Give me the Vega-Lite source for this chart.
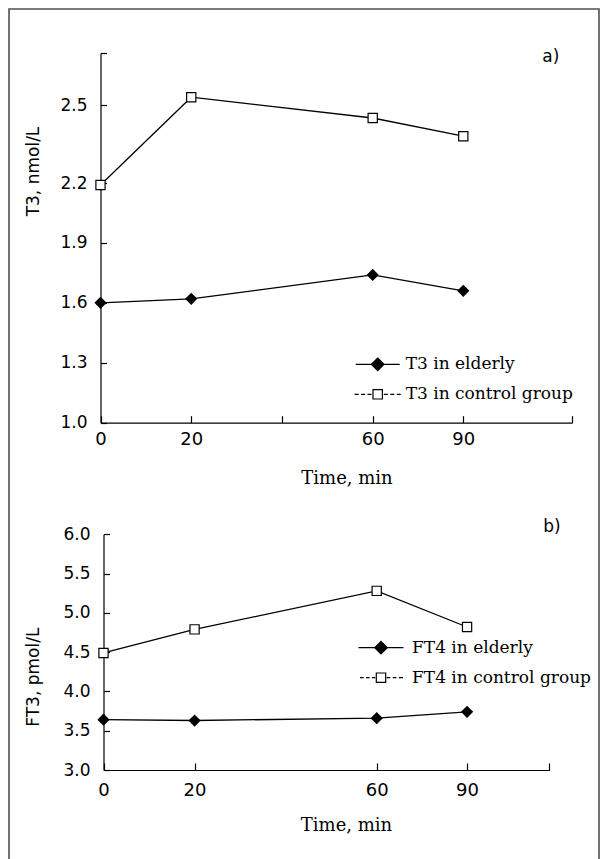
{
  "$schema": "https://vega.github.io/schema/vega-lite/v6.json",
  "width": 590,
  "height": 861,
  "autosize": {"type": "none"},
  "padding": {"left": 9, "top": 9, "right": 3, "bottom": -11},
  "background": "white",
  "config": {
    "view": {"stroke": "#505050", "strokeWidth": 1.6},
    "axis": {
      "labelFont": "DejaVu Sans", "labelFontSize": 17, "labelColor": "black",
      "domainColor": "black", "domainWidth": 1.2, "tickColor": "black", "tickWidth": 1.2,
      "grid": false, "titleFontWeight": "normal", "titleColor": "black",
      "labelFlush": false, "labelOverlap": false, "labelBound": false
    },
    "legend": {
      "labelFont": "DejaVu Serif", "labelFontSize": 17, "labelColor": "black",
      "padding": 0, "rowPadding": 0, "labelLimit": 400, "symbolOpacity": 1,
      "symbolStrokeColor": "black", "symbolStrokeWidth": 1.2
    }
  },
  "datasets": {
    "a": [
      {"time": 0, "value": 1.60, "series": "elderly", "label": "T3 in elderly"},
      {"time": 20, "value": 1.62, "series": "elderly", "label": "T3 in elderly"},
      {"time": 60, "value": 1.74, "series": "elderly", "label": "T3 in elderly"},
      {"time": 90, "value": 1.66, "series": "elderly", "label": "T3 in elderly"},
      {"time": 0, "value": 2.19, "series": "control", "label": "T3 in control group"},
      {"time": 20, "value": 2.53, "series": "control", "label": "T3 in control group"},
      {"time": 60, "value": 2.45, "series": "control", "label": "T3 in control group"},
      {"time": 90, "value": 2.38, "series": "control", "label": "T3 in control group"}
    ],
    "b": [
      {"time": 0, "value": 3.64, "series": "elderly", "label": "FT4 in elderly"},
      {"time": 20, "value": 3.63, "series": "elderly", "label": "FT4 in elderly"},
      {"time": 60, "value": 3.66, "series": "elderly", "label": "FT4 in elderly"},
      {"time": 90, "value": 3.74, "series": "elderly", "label": "FT4 in elderly"},
      {"time": 0, "value": 4.49, "series": "control", "label": "FT4 in control group"},
      {"time": 20, "value": 4.79, "series": "control", "label": "FT4 in control group"},
      {"time": 60, "value": 5.28, "series": "control", "label": "FT4 in control group"},
      {"time": 90, "value": 4.82, "series": "control", "label": "FT4 in control group"}
    ]
  },
  "layer": [
    {
      "data": {"name": "a"},
      "layer": [
        {
          "mark": {"type": "line", "color": "black", "strokeWidth": 1.3},
          "encoding": {
            "x": {
              "field": "time", "type": "quantitative",
              "scale": {"domain": [0, 60, 126], "range": [91.5, 363.7, 563], "nice": false, "zero": false},
              "axis": {
                "orient": "bottom", "offset": -447.3,
                "values": [0, 20, 40, 60, 90, 126],
                "labelExpr": "datum.value == 40 || datum.value == 126 ? '' : datum.label",
                "tickSize": -7, "labelPadding": 15, "labelFontSize": 18,
                "title": "Time, min", "titleFont": "DejaVu Serif", "titleFontSize": 18,
                "titleX": 337.5, "titleY": 56, "titleBaseline": "middle", "titleAlign": "center"
              }
            },
            "y": {
              "field": "value", "type": "quantitative",
              "scale": {"domain": [1.0, 2.2, 2.7], "range": [413.7, 174, 44], "nice": false, "zero": false},
              "axis": {
                "orient": "left", "offset": -91.5,
                "values": [1.0, 1.3, 1.6, 1.9, 2.2, 2.5, 2.7],
                "format": ".1f",
                "labelExpr": "datum.value == 2.7 ? '' : datum.label",
                "tickSize": -6, "labelPadding": 19.5,
                "title": "T3, nmol/L", "titleFont": "DejaVu Sans", "titleFontSize": 17,
                "titleX": -67.2, "titleY": 162, "titleBaseline": "middle", "titleAlign": "center", "titleAngle": -90
              }
            },
            "detail": {"field": "series"}
          }
        },
        {
          "transform": [{"filter": "datum.series === 'elderly'"}],
          "mark": {"type": "point", "shape": "diamond", "filled": true, "color": "black", "size": 150, "opacity": 1},
          "encoding": {
            "x": {"field": "time", "type": "quantitative"},
            "y": {"field": "value", "type": "quantitative"}
          }
        },
        {
          "transform": [{"filter": "datum.series === 'control'"}],
          "mark": {"type": "point", "shape": "square", "filled": true, "fill": "white", "stroke": "black", "strokeWidth": 1.2, "size": 85, "opacity": 1},
          "encoding": {
            "x": {"field": "time", "type": "quantitative"},
            "y": {"field": "value", "type": "quantitative"}
          }
        },
        {
          "mark": {"type": "point", "filled": true, "opacity": 0, "stroke": "black"},
          "encoding": {
            "x": {"field": "time", "type": "quantitative"},
            "y": {"field": "value", "type": "quantitative"},
            "shape": {
              "field": "label", "type": "nominal",
              "scale": {
                "domain": ["T3 in elderly", "T3 in control group"],
                "range": [
                  "M-1.1,0H1.1M0,-0.315L0.315,0L0,0.315L-0.315,0Z",
                  "M-1.15,0H-0.95M-0.83,0H-0.63M-0.51,0H-0.31M-0.235,-0.235H0.235V0.235H-0.235ZM0.31,0H0.51M0.63,0H0.83M0.95,0H1.15"
                ]
              },
              "legend": {
                "orient": "none", "legendX": 347.7, "legendY": 334.3, "title": null,
                "symbolSize": 1600, "labelOffset": 7,
                "encode": {"symbols": {"update": {"opacity": {"value": 1}, "stroke": {"value": "black"}}}}
              }
            },
            "fill": {
              "field": "label", "type": "nominal",
              "scale": {"domain": ["T3 in elderly", "T3 in control group"], "range": ["black", "white"]},
              "legend": {
                "orient": "none", "legendX": 347.7, "legendY": 334.3, "title": null,
                "symbolSize": 1600, "labelOffset": 7,
                "encode": {"symbols": {"update": {"opacity": {"value": 1}, "stroke": {"value": "black"}}}}
              }
            }
          }
        },
        {
          "data": {"values": [{"tag": "a)"}]},
          "mark": {"type": "text", "font": "DejaVu Sans", "fontSize": 17, "color": "black", "align": "center", "baseline": "middle"},
          "encoding": {
            "x": {"datum": 119},
            "y": {"datum": 2.683},
            "text": {"field": "tag"}
          }
        }
      ]
    },
    {
      "data": {"name": "b"},
      "layer": [
        {
          "mark": {"type": "line", "color": "black", "strokeWidth": 1.3},
          "encoding": {
            "x": {
              "field": "time", "type": "quantitative",
              "scale": {"domain": [0, 60, 117.3], "range": [94.5, 367.7, 540.3], "nice": false, "zero": false},
              "axis": {
                "orient": "bottom", "offset": -100,
                "values": [0, 20, 60, 90, 117.3],
                "labelExpr": "datum.value == 117.3 ? '' : datum.label",
                "tickSize": -7, "labelPadding": 18, "labelFontSize": 18,
                "title": "Time, min", "titleFont": "DejaVu Serif", "titleFontSize": 18,
                "titleX": 337, "titleY": 55, "titleBaseline": "middle", "titleAlign": "center"
              }
            },
            "y": {
              "field": "value", "type": "quantitative",
              "scale": {"domain": [3.0, 6.0], "range": [761, 525.3], "nice": false, "zero": false},
              "axis": {
                "orient": "left", "offset": -94.5,
                "values": [3.0, 3.5, 4.0, 4.5, 5.0, 5.5, 6.0],
                "format": ".1f",
                "tickSize": -6, "labelPadding": 19.5,
                "title": "FT3, pmol/L", "titleFont": "DejaVu Sans", "titleFontSize": 17,
                "titleX": -70.2, "titleY": 667.7, "titleBaseline": "middle", "titleAlign": "center", "titleAngle": -90
              }
            },
            "detail": {"field": "series"}
          }
        },
        {
          "transform": [{"filter": "datum.series === 'elderly'"}],
          "mark": {"type": "point", "shape": "diamond", "filled": true, "color": "black", "size": 150, "opacity": 1},
          "encoding": {
            "x": {"field": "time", "type": "quantitative"},
            "y": {"field": "value", "type": "quantitative"}
          }
        },
        {
          "transform": [{"filter": "datum.series === 'control'"}],
          "mark": {"type": "point", "shape": "square", "filled": true, "fill": "white", "stroke": "black", "strokeWidth": 1.2, "size": 85, "opacity": 1},
          "encoding": {
            "x": {"field": "time", "type": "quantitative"},
            "y": {"field": "value", "type": "quantitative"}
          }
        },
        {
          "mark": {"type": "point", "filled": true, "opacity": 0, "stroke": "black"},
          "encoding": {
            "x": {"field": "time", "type": "quantitative"},
            "y": {"field": "value", "type": "quantitative"},
            "shape": {
              "field": "label", "type": "nominal",
              "scale": {
                "domain": ["FT4 in elderly", "FT4 in control group"],
                "range": [
                  "M-1.125,0H1.125M0,-0.315L0.315,0L0,0.315L-0.315,0Z",
                  "M-1.05,0H-0.87M-0.75,0H-0.57M-0.45,0H-0.29M-0.235,-0.235H0.235V0.235H-0.235ZM0.29,0H0.47M0.59,0H0.77M0.89,0H1.1"
                ]
              },
              "legend": {
                "orient": "none", "legendX": 351, "legendY": 617.7, "title": null,
                "symbolSize": 1600, "labelOffset": 10,
                "encode": {"symbols": {"update": {"opacity": {"value": 1}, "stroke": {"value": "black"}}}}
              }
            },
            "fill": {
              "field": "label", "type": "nominal",
              "scale": {"domain": ["FT4 in elderly", "FT4 in control group"], "range": ["black", "white"]},
              "legend": {
                "orient": "none", "legendX": 351, "legendY": 617.7, "title": null,
                "symbolSize": 1600, "labelOffset": 10,
                "encode": {"symbols": {"update": {"opacity": {"value": 1}, "stroke": {"value": "black"}}}}
              }
            }
          }
        },
        {
          "data": {"values": [{"tag": "b)"}]},
          "mark": {"type": "text", "font": "DejaVu Sans", "fontSize": 17, "color": "black", "align": "center", "baseline": "middle"},
          "encoding": {
            "x": {"datum": 118.2},
            "y": {"datum": 6.09},
            "text": {"field": "tag"}
          }
        }
      ]
    }
  ],
  "resolve": {
    "scale": {"x": "independent", "y": "independent", "shape": "independent", "fill": "independent"},
    "axis": {"x": "independent", "y": "independent"},
    "legend": {"shape": "independent", "fill": "independent"}
  }
}
